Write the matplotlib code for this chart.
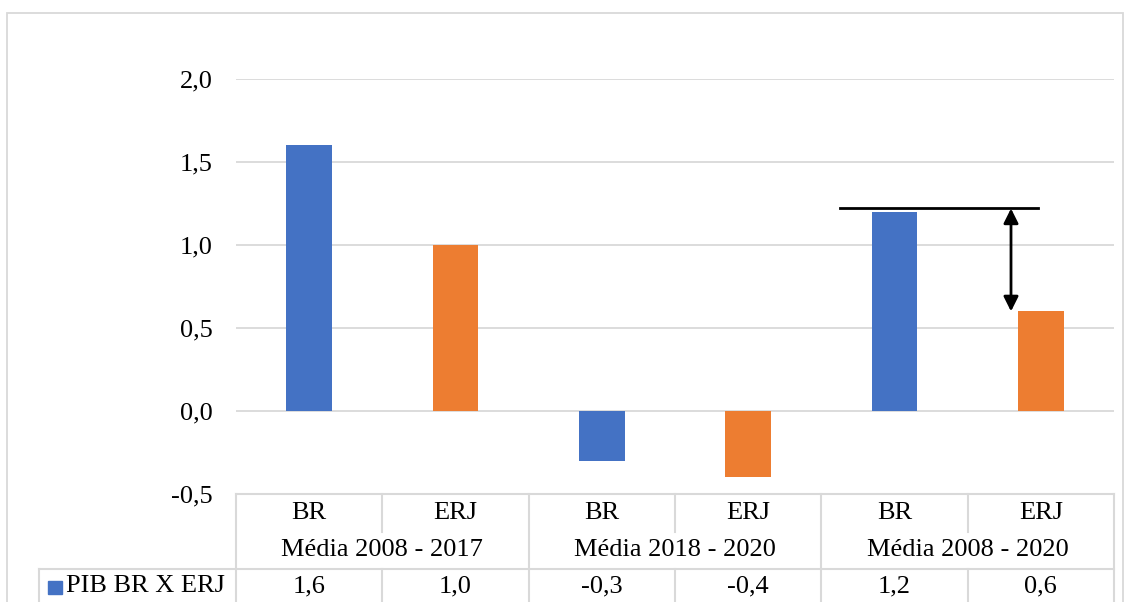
import matplotlib.pyplot as plt
from matplotlib.patches import Rectangle

plt.rcParams['font.family'] = ['Liberation Serif', 'DejaVu Serif']

# dados
series = ["BR", "ERJ", "BR", "ERJ", "BR", "ERJ"]
groups = ["Média 2008 - 2017", "Média 2018 - 2020", "Média 2008 - 2020"]
values = [1.6, 1.0, -0.3, -0.4, 1.2, 0.6]
legend_label = "PIB BR X ERJ"

blue = "#4472C4"
orange = "#ED7D31"
grid_c = "#D9D9D9"
fs = 19

W, H = 1129, 602
fig = plt.figure(figsize=(W / 100, H / 100), dpi=100)

# moldura do gráfico
fig.patches.append(Rectangle((7 / W, -0.05), (1123 - 7) / W, (H - 13) / H + 0.05,
                             transform=fig.transFigure, fill=False,
                             edgecolor=grid_c, linewidth=1.3))

ax = fig.add_axes([236 / W, (H - 494) / H, 878 / W, (494 - 79) / H])
x = list(range(len(values)))
colors = [blue if s == "BR" else orange for s in series]
ax.bar(x, values, width=0.31, color=colors, zorder=3)

ax.set_xlim(-0.5, len(values) - 0.5)
ax.set_ylim(-0.5, 2.0)
yt = [-0.5, 0.0, 0.5, 1.0, 1.5, 2.0]
ax.set_yticks(yt)
ax.set_yticklabels([f"{v:.1f}".replace(".", ",") for v in yt], fontsize=fs)
ax.tick_params(axis='y', length=0, pad=17)
ax.set_xticks([])
for s in ax.spines.values():
    s.set_visible(False)
for v in yt[1:]:
    ax.axhline(v, color=grid_c, linewidth=1.3, zorder=1)

# tabela de dados (posições em pixels convertidas)
unit = 878 / len(values)
def dx(p):
    return (p - 236) / unit - 0.5
def fy(p):
    return -(p - 494) / (494 - 79)

tr = ax.get_xaxis_transform()
r1, r2, r3 = fy(532), fy(569), fy(610)
lx = dx(39)
kw = dict(color=grid_c, linewidth=1.5, transform=tr, clip_on=False)
ax.plot([-0.5, 5.5], [0, 0], **kw)
ax.plot([lx, 5.5], [r2, r2], **kw)
ax.plot([lx, lx], [r2, r3], **kw)
ax.plot([5.5, 5.5], [0, r3], **kw)
for i in range(len(values)):
    b = i - 0.5
    if i % 2 == 0:
        ax.plot([b, b], [0, r3], **kw)
    else:
        ax.plot([b, b], [0, r1], **kw)
        ax.plot([b, b], [r2, r3], **kw)
    ax.text(i, fy(513), series[i], transform=tr, ha='center', va='center', fontsize=fs)
    ax.text(i, fy(586), f"{values[i]:.1f}".replace(".", ","),
            transform=tr, ha='center', va='center', fontsize=fs)
for g, name in enumerate(groups):
    ax.text(2 * g + 0.5, fy(550), name, transform=tr, ha='center',
            va='center', fontsize=fs)

ax.add_patch(Rectangle((dx(48), fy(594)), dx(62) - dx(48), fy(581) - fy(594),
                       transform=tr, color=blue, clip_on=False))
ax.text(dx(66), fy(586), legend_label, transform=tr,
        ha='left', va='center', fontsize=fs)

# seta de diferença
top = values[4] + 0.02
ax.plot([dx(840), dx(1038)], [top, top], color='black', linewidth=2, zorder=4)
ax.annotate("", xy=(dx(1011), values[5]), xytext=(dx(1011), top),
            arrowprops=dict(arrowstyle='<|-|>', color='black', lw=2,
                            mutation_scale=22, shrinkA=0, shrinkB=0), zorder=4)

fig.savefig("out.png", dpi=100)
